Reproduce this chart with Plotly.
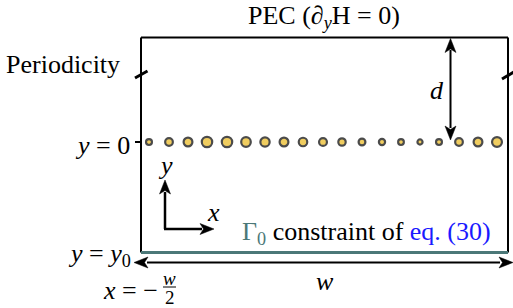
import plotly.graph_objects as go

# ---- data ----
dot_x = [149, 169, 188, 207, 227, 246, 265, 284, 303, 323, 342, 362, 382, 401, 420, 439, 459, 478, 497]
dot_d = [7.5, 9.3, 10.4, 12.0, 12.0, 11.2, 10.9, 10.4, 10.1, 9.5, 9.0, 8.4, 7.8, 7.3, 6.7, 7.5, 9.3, 10.4, 11.5]
dot_y_level = 142

FONT = "Liberation Serif"
FS = 26
BLACK = "#000000"
TEAL = "#4B7878"
BLUE = "#1A1AFF"
GOLD = "#EBB81C"

box = dict(x0=141, x1=508, y0=37.5, y1=252.5)

fig = go.Figure()
fig.add_trace(go.Scatter(
    x=dot_x, y=[dot_y_level] * len(dot_x), mode="markers",
    marker=dict(size=[d - 1.6 for d in dot_d], color=GOLD,
                line=dict(color=BLACK, width=2.2)),
    hoverinfo="skip", showlegend=False))

shapes = []
def line(x0, y0, x1, y1, color=BLACK, width=2):
    shapes.append(dict(type="line", x0=x0, y0=y0, x1=x1, y1=y1, layer="below",
                       line=dict(color=color, width=width)))

def head(tx, ty, dx, dy, L=14, H=5.5, notch=3.5):
    px, py = -dy, dx
    bx, by = tx - dx * L, ty - dy * L
    nx, ny = tx - dx * (L - notch), ty - dy * (L - notch)
    path = (f"M {tx},{ty} L {bx + px*H},{by + py*H} L {nx},{ny} "
            f"L {bx - px*H},{by - py*H} Z")
    shapes.append(dict(type="path", path=path, fillcolor=BLACK,
                       line=dict(color=BLACK, width=0.5), layer="above"))

# box (top, left, right) and teal bottom
line(box["x0"], box["y0"], box["x1"], box["y0"])
line(box["x0"], box["y0"], box["x0"], box["y1"])
line(box["x1"], box["y0"], box["x1"], box["y1"])
line(box["x0"], box["y1"], box["x1"], box["y1"], color=TEAL, width=3)

# periodicity slashes
line(135, 78, 147.5, 71, width=3)
line(502, 79, 514, 72, width=3)

# y=0 tick
line(135, dot_y_level, 141, dot_y_level, width=2)

# d arrow
line(450.5, 50, 450.5, 128, width=2)
head(450.5, 38.5, 0, -1)
head(450.5, 140, 0, 1)

# w arrow
line(147, 262.5, 500, 262.5, width=2.2)
head(134, 262.5, -1, 0)
head(513, 262.5, 1, 0)

# coordinate axes
line(165, 229, 165, 192, width=2.5)
line(164, 229, 202, 229, width=2.5)
head(165, 180, 0, -1)
head(214, 229, 1, 0)

# fraction bar for -w/2
line(163, 287, 176, 287, width=1)

ann = []
def txt(x, y, s, size=FS, xanchor="center", color=BLACK):
    ann.append(dict(x=x, y=y, text=s, showarrow=False, xanchor=xanchor, yanchor="middle",
                    font=dict(family=FONT, size=size, color=color)))

txt(324, 17, "PEC (∂<sub><i>y</i></sub>H = 0)")
txt(122, 64, "Periodicity", xanchor="right")
txt(132, 145, "<i>y</i> = 0", xanchor="right")
txt(437, 90, "<i>d</i>")
txt(165, 165, "<i>y</i>")
txt(213, 212, "<i>x</i>")
txt(240, 233, f"<span style='color:{TEAL}'>Γ<sub>0</sub></span> constraint of "
              f"<span style='color:{BLUE}'>eq. (30)</span>", xanchor="left")
txt(133, 255, "<i>y</i> = <i>y</i><sub>0</sub>", xanchor="right")
txt(160, 290, "<i>x</i> = −", xanchor="right")
txt(169.5, 278, "<i>w</i>", size=19)
txt(169.5, 297, "2", size=19)
txt(325, 281, "<i>w</i>")

fig.update_layout(
    width=513, height=308, autosize=False,
    margin=dict(l=0, r=0, t=0, b=0),
    paper_bgcolor="white", plot_bgcolor="white",
    xaxis=dict(range=[0, 513], visible=False, fixedrange=True),
    yaxis=dict(range=[308, 0], visible=False, fixedrange=True),
    shapes=shapes, annotations=ann, showlegend=False,
)
fig.write_html("out.html", config={"displayModeBar": False},
               post_script="document.body.style.margin='0';document.body.style.overflow='hidden';")
